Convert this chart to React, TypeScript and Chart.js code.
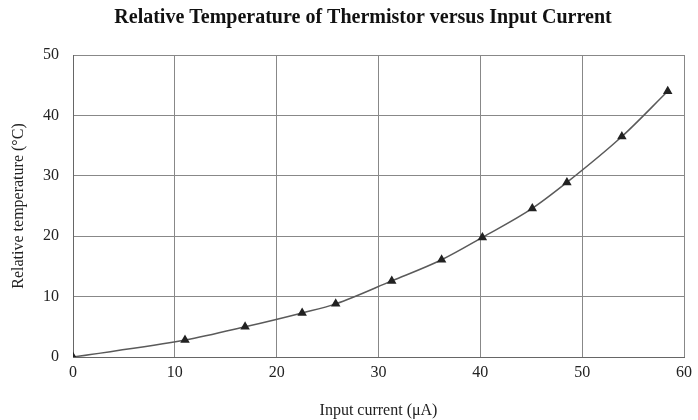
import React, { useEffect, useRef } from "react";
import { Chart, registerables } from "chart.js";

Chart.register(...registerables);

const currents = [0, 11.0, 16.9, 22.5, 25.8, 31.3, 36.2, 40.2, 45.1, 48.5, 53.9, 58.4];
const temps = [0, 2.8, 5.0, 7.3, 8.8, 12.6, 16.1, 19.8, 24.6, 28.9, 36.5, 44.0];
const titleText = "Relative Temperature of Thermistor versus Input Current";
const xTitle = "Input current (\u03bcA)";
const yTitle = "Relative temperature (\u00b0C)";

const SERIF = "'Liberation Serif', 'Times New Roman', serif";

const titlePlugin = {
  id: "customTitle",
  afterDraw(chart: any) {
    const c = chart.ctx;
    c.save();
    c.font = `bold 20px ${SERIF}`;
    c.fillStyle = "#111";
    c.textAlign = "center";
    c.textBaseline = "middle";
    c.fillText(titleText, 363, 18);
    c.restore();
  },
};

export default function App() {
  const ref = useRef<HTMLCanvasElement>(null);
  useEffect(() => {
    document.body.style.margin = "0";
    const ctx = ref.current!.getContext("2d")!;
    const chart = new Chart(ctx, {
      type: "line",
      data: {
        datasets: [
          {
            data: currents.map((x, i) => ({ x, y: temps[i] })),
            borderColor: "#5a5a5a",
            borderWidth: 1.5,
            pointStyle: "triangle",
            pointRadius: 4,
            pointBackgroundColor: "#222",
            pointBorderColor: "#222",
            cubicInterpolationMode: "monotone",
            fill: false,
          },
        ],
      },
      plugins: [titlePlugin],
      options: {
        animation: false,
        responsive: false,
        layout: { padding: { left: 9, right: 12, top: 55, bottom: 0 } },
        plugins: {
          legend: { display: false },
          tooltip: { enabled: false },
          title: { display: false },
        },
        scales: {
          x: {
            type: "linear",
            min: 0,
            max: 60,
            ticks: { stepSize: 10, color: "#222", font: { family: SERIF, size: 16 }, padding: 6 },
            grid: { color: "#888", drawTicks: false, lineWidth: 1 },
            border: { color: "#666" },
            title: { display: true, text: xTitle, color: "#222", font: { family: SERIF, size: 16 }, padding: { top: 0, bottom: 0 } },
            afterFit: (s: any) => { s.height = 63; },
          },
          y: {
            min: 0,
            max: 50,
            ticks: { stepSize: 10, color: "#222", font: { family: SERIF, size: 16 }, padding: 14 },
            grid: { color: "#888", drawTicks: false, lineWidth: 1 },
            border: { color: "#666" },
            title: { display: true, text: yTitle, color: "#222", font: { family: SERIF, size: 16 }, padding: { top: 0, bottom: 0 } },
            afterFit: (s: any) => { s.width = 64; },
          },
        },
      },
    });
    return () => chart.destroy();
  }, []);
  return (
    <div style={{ width: 698, height: 420, background: "#fff" }}>
      <canvas ref={ref} width={698} height={420} />
    </div>
  );
}
